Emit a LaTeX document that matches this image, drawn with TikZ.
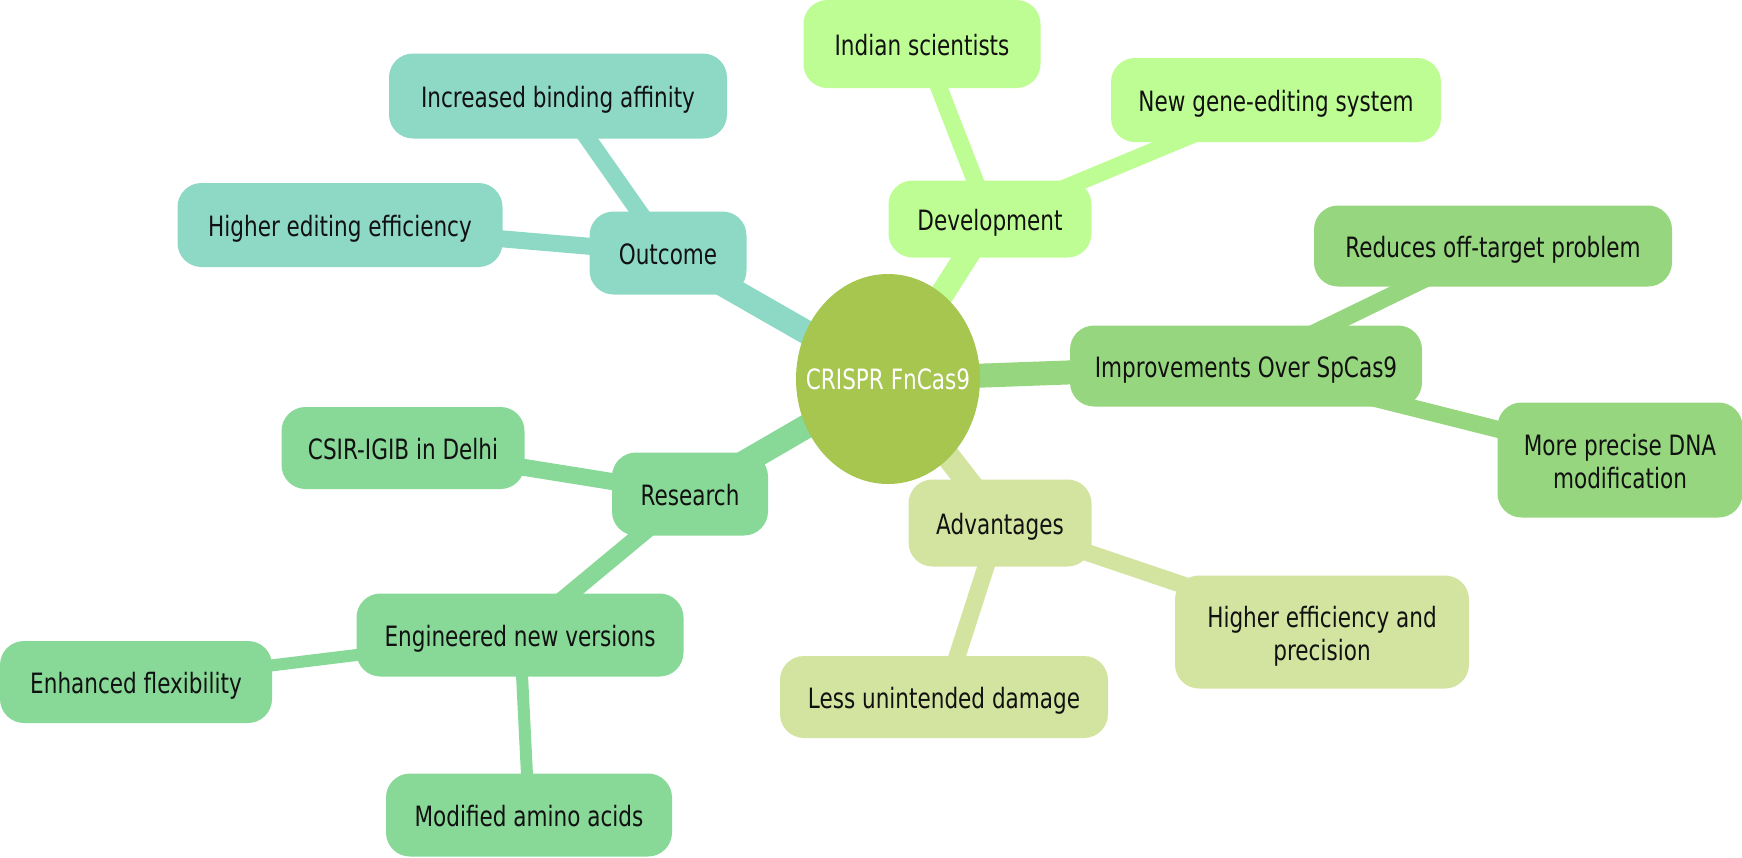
\documentclass[tikz,border=0pt]{standalone}
\usepackage{fontspec}
\setmainfont{DejaVu Sans}[FakeStretch=0.77]
\usetikzlibrary{shapes.geometric,backgrounds}
\definecolor{cteal}{HTML}{8ED9C6}
\definecolor{clime}{HTML}{BEFD93}
\definecolor{cimp}{HTML}{95D67E}
\definecolor{cres}{HTML}{88D898}
\definecolor{cadv}{HTML}{D3E3A0}
\definecolor{ccen}{HTML}{A7C650}
\definecolor{ctxt}{HTML}{111111}
\tikzset{
  box/.style={rounded corners=24pt, inner sep=0pt, align=center, text=ctxt,
    text height=26pt, text depth=2.5pt,
    font=\fontsize{28}{33}\selectfont},
  twoline/.style={text height=59pt, text depth=2.5pt},
  lone/.style={line width=24pt},
  ltwo/.style={line width=17pt},
  lthree/.style={line width=12pt},
}
\begin{document}
\begin{tikzpicture}[x=1pt,y=-1pt]
\useasboundingbox (0,0) rectangle (1742,857);
% center
\node[ellipse, fill=ccen, minimum width=184pt, minimum height=210pt, inner sep=0pt,
  text=white, font=\fontsize{28}{32}\selectfont] (c) at (888,379) {\makebox[0pt]{\raisebox{-3pt}{CRISPR FnCas9}}};
% Development
\node[box, fill=clime, minimum width=203pt, minimum height=77pt] (dev) at (990,219) {Development};
\node[box, fill=clime, minimum width=237pt, minimum height=88pt] (ind) at (922,44) {Indian scientists};
\node[box, fill=clime, minimum width=330pt, minimum height=84pt] (new) at (1276,100) {New gene-editing system};
% Outcome
\node[box, fill=cteal, minimum width=157pt, minimum height=83pt] (out) at (668,253) {Outcome};
\node[box, fill=cteal, minimum width=338pt, minimum height=85pt] (inc) at (558,96) {Increased binding affinity};
\node[box, fill=cteal, minimum width=325pt, minimum height=84pt] (hee) at (340,225) {Higher editing efficiency};
% Improvements
\node[box, fill=cimp, minimum width=352pt, minimum height=81pt] (imp) at (1246,366) {Improvements Over SpCas9};
\node[box, fill=cimp, minimum width=358pt, minimum height=81pt] (red) at (1493,246) {Reduces off-target problem};
\node[box, twoline, fill=cimp, minimum width=245pt, minimum height=115pt] (mor) at (1620,460) {More precise DNA\\modification};
% Research
\node[box, fill=cres, minimum width=156pt, minimum height=83pt] (res) at (690,494) {Research};
\node[box, fill=cres, minimum width=243pt, minimum height=82pt] (csi) at (403,448) {CSIR-IGIB in Delhi};
\node[box, fill=cres, minimum width=327pt, minimum height=83pt] (eng) at (520,635) {Engineered new versions};
\node[box, fill=cres, minimum width=272pt, minimum height=82pt] (enh) at (136,682) {Enhanced flexibility};
\node[box, fill=cres, minimum width=286pt, minimum height=83pt] (mod) at (529,815) {Modified amino acids};
% Advantages
\node[box, fill=cadv, minimum width=183pt, minimum height=87pt] (adv) at (1000,523) {Advantages};
\node[box, twoline, fill=cadv, minimum width=294pt, minimum height=113pt] (hef) at (1322,632) {Higher efficiency and\\precision};
\node[box, fill=cadv, minimum width=328pt, minimum height=82pt] (les) at (944,697) {Less unintended damage};
\begin{scope}[on background layer]
  \draw[lone, clime] (c.center) -- (dev.center);
  \draw[lone, cteal] (c.center) -- (out.center);
  \draw[lone, cimp] (c.center) -- (imp.center);
  \draw[lone, cres] (c.center) -- (res.center);
  \draw[lone, cadv] (c.center) -- (adv.center);
  \draw[ltwo, clime] (dev.center) -- (ind.center);
  \draw[ltwo, clime] (dev.center) -- (new.center);
  \draw[ltwo, cteal] (out.center) -- (inc.center);
  \draw[ltwo, cteal] (out.center) -- (hee.center);
  \draw[ltwo, cimp] (imp.center) -- (red.center);
  \draw[ltwo, cimp] (imp.center) -- (mor.center);
  \draw[ltwo, cres] (res.center) -- (csi.center);
  \draw[ltwo, cres] (res.center) -- (eng.center);
  \draw[lthree, cres] (eng.center) -- (enh.center);
  \draw[lthree, cres] (eng.center) -- (mod.center);
  \draw[ltwo, cadv] (adv.center) -- (hef.center);
  \draw[ltwo, cadv] (adv.center) -- (les.center);
\end{scope}
\end{tikzpicture}
\end{document}
